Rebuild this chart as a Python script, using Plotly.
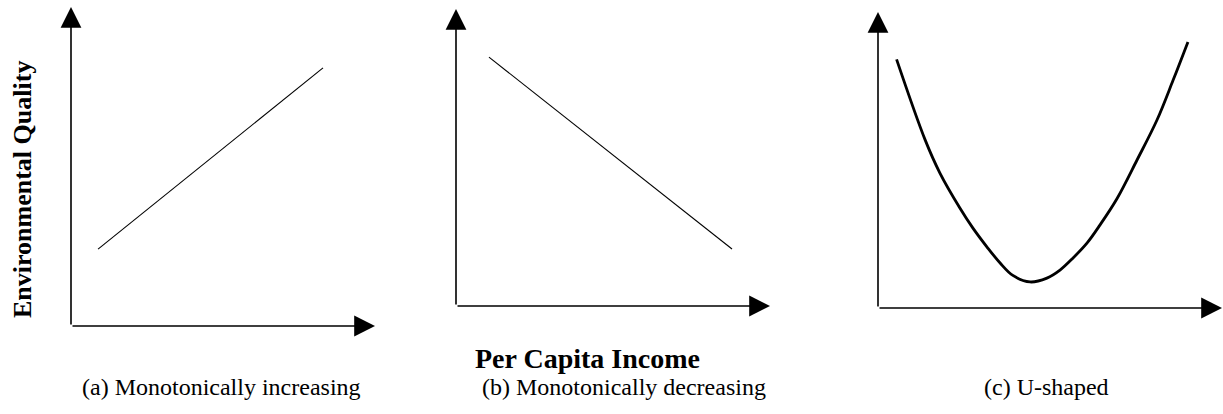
import plotly.graph_objects as go

W, H = 1223, 414

# conceptual data: income (x) vs environmental quality (y), on a 0-10 scale
inc_a = [0.89, 8.29]
eq_a = [2.41, 8.09]

inc_b = [1.05, 8.79]
eq_b = [8.38, 1.92]

inc_c = [0.54, 1.37, 1.80, 2.38, 2.76, 3.17, 3.55, 3.92, 4.42, 4.91, 5.29, 5.67, 6.08, 6.45, 6.95, 7.53, 8.11, 8.58, 9.01]
eq_c = [8.40, 5.68, 4.56, 3.38, 2.70, 2.06, 1.52, 1.10, 0.88, 1.01, 1.28, 1.69, 2.20, 2.80, 3.70, 5.00, 6.35, 7.70, 8.99]

captions = ['(a) Monotonically increasing', '(b) Monotonically decreasing', '(c) U-shaped']
x_title = 'Per Capita Income'
y_title = 'Environmental Quality'

# panel boxes in pixels: origin x, x-arrow tip, origin y, y-arrow tip
panels = [(71, 375, 326, 7), (456, 770, 306, 9), (878, 1222, 308, 12)]

SERIF = 'Liberation Serif, Times New Roman, serif'

fig = go.Figure()
fig.add_trace(go.Scatter(x=inc_a, y=eq_a, mode='lines', line=dict(color='black', width=1.1),
                         xaxis='x', yaxis='y'))
fig.add_trace(go.Scatter(x=inc_b, y=eq_b, mode='lines', line=dict(color='black', width=1.1),
                         xaxis='x2', yaxis='y2'))
fig.add_trace(go.Scatter(x=inc_c, y=eq_c, mode='lines',
                         line=dict(color='black', width=2.8, shape='spline', smoothing=1.0),
                         xaxis='x3', yaxis='y3'))

annotations = []
layout_axes = {}
for i, (x0, x1, y0, y1) in enumerate(panels):
    sfx = '' if i == 0 else str(i + 1)
    layout_axes['xaxis' + sfx] = dict(domain=[x0 / W, x1 / W], range=[0, 10], visible=False,
                                      anchor='y' + sfx, fixedrange=True)
    layout_axes['yaxis' + sfx] = dict(domain=[1 - y0 / H, 1 - y1 / H], range=[0, 10], visible=False,
                                      anchor='x' + sfx, fixedrange=True)
    xr, yr = 'x' + sfx, 'y' + sfx
    # axis arrows
    for (tx, ty) in [(10, 0), (0, 10)]:
        annotations.append(dict(x=tx, y=ty, xref=xr, yref=yr, ax=0, ay=0, axref=xr, ayref=yr,
                                text='', showarrow=True, arrowhead=2, arrowsize=2.6, arrowwidth=1.6,
                                arrowcolor='black', standoff=0, startstandoff=0))

cap_x = [221, 624, 1046]
for cx, txt in zip(cap_x, captions):
    annotations.append(dict(x=cx / W, y=1 - 387 / H, xref='paper', yref='paper', text=txt,
                            showarrow=False, xanchor='center', yanchor='middle',
                            font=dict(family=SERIF, size=24, color='black')))

annotations.append(dict(x=587.5 / W, y=1 - 358 / H, xref='paper', yref='paper', text='<b>' + x_title + '</b>',
                        showarrow=False, xanchor='center', yanchor='middle',
                        font=dict(family=SERIF, size=28, color='black')))
annotations.append(dict(x=22 / W, y=1 - 190 / H, xref='paper', yref='paper', text='<b>' + y_title + '</b>',
                        showarrow=False, xanchor='center', yanchor='middle', textangle=-90,
                        font=dict(family=SERIF, size=26, color='black')))

fig.update_layout(width=W, height=H, margin=dict(l=0, r=0, t=0, b=0),
                  paper_bgcolor='white', plot_bgcolor='white', showlegend=False,
                  annotations=annotations, **layout_axes)

fig.write_html('out.html', config={'displayModeBar': False},
               post_script="document.body.style.margin='0';")
